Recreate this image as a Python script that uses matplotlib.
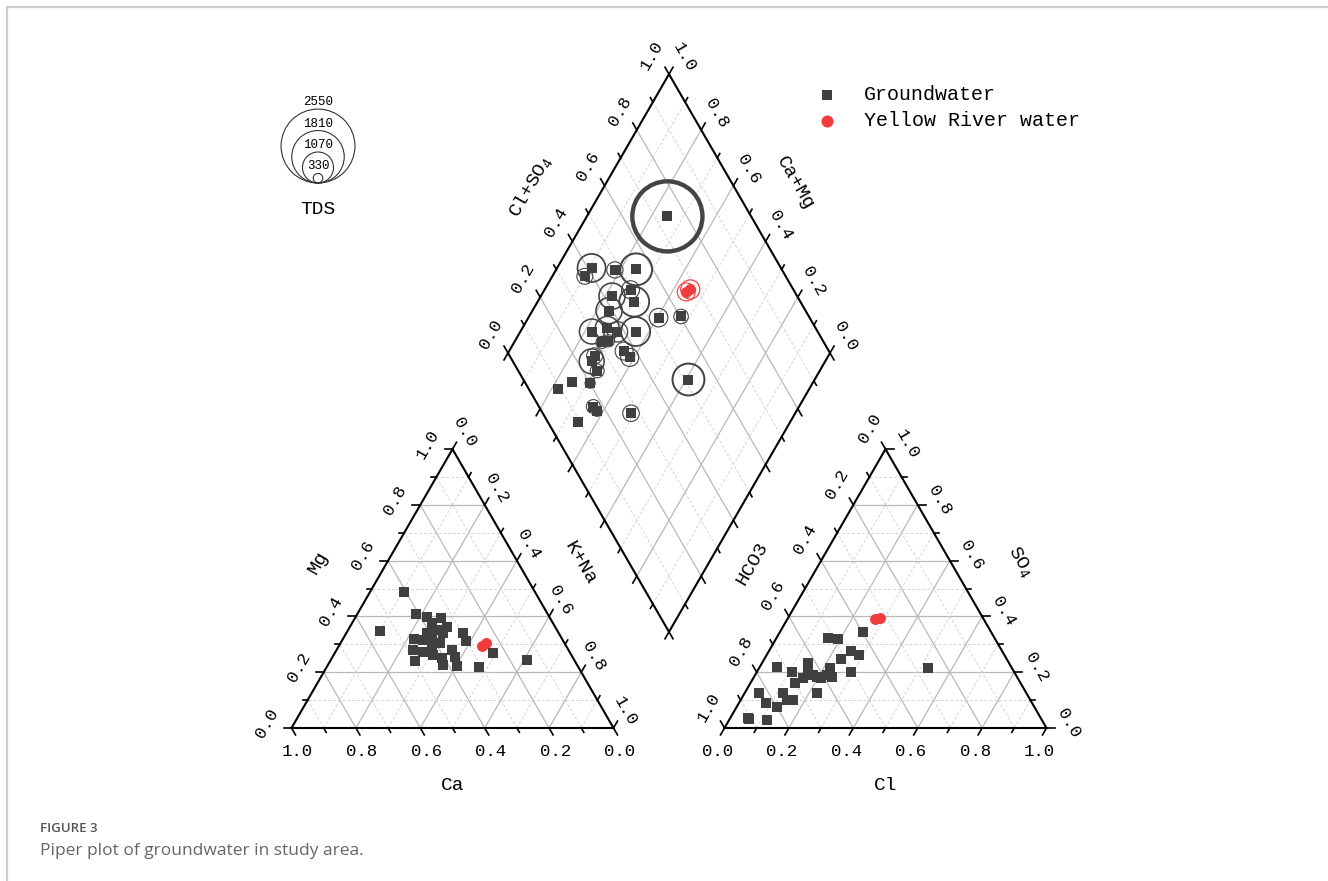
import numpy as np
import matplotlib
matplotlib.use('Agg')
import matplotlib.pyplot as plt
from matplotlib.patches import Circle

plt.rcParams['mathtext.fontset'] = 'custom'
plt.rcParams['mathtext.rm'] = 'Liberation Mono'
plt.rcParams['mathtext.it'] = 'Liberation Mono'
MONO = 'Liberation Mono'

# groundwater samples: cation / anion fractions (meq) and TDS (mg/L)
gw_ca = [0.411, 0.407, 0.551, 0.409, 0.377, 0.339, 0.380, 0.337, 0.374, 0.308,
         0.482, 0.460, 0.496, 0.359, 0.416, 0.454, 0.419, 0.363, 0.302, 0.374,
         0.400, 0.387, 0.433, 0.429, 0.460, 0.297, 0.366, 0.240, 0.409, 0.148]
gw_mg = [0.339, 0.486, 0.348, 0.408, 0.375, 0.394, 0.399, 0.363, 0.222, 0.220,
         0.280, 0.318, 0.240, 0.339, 0.226, 0.273, 0.291, 0.280, 0.312, 0.351,
         0.326, 0.304, 0.315, 0.262, 0.319, 0.342, 0.253, 0.270, 0.250, 0.244]
gw_cl = [0.526, 0.222, 0.144, 0.159, 0.287, 0.292, 0.241, 0.238, 0.254, 0.260,
         0.210, 0.139, 0.225, 0.194, 0.221, 0.111, 0.156, 0.156, 0.180, 0.121,
         0.164, 0.145, 0.118, 0.127, 0.056, 0.045, 0.083, 0.054, 0.060, 0.194]
gw_so4 = [0.214, 0.190, 0.232, 0.322, 0.261, 0.202, 0.184, 0.246, 0.277, 0.343,
          0.180, 0.160, 0.127, 0.184, 0.214, 0.200, 0.178, 0.208, 0.190, 0.124,
          0.100, 0.100, 0.029, 0.074, 0.035, 0.124, 0.089, 0.220, 0.034, 0.319]
gw_tds = [2420, 970, 550, 560, 1100, 620, 900, 1030, 640, 500,
          900, 860, 830, 700, 1000, 420, 420, 620, 620, 860,
          550, 480, 250, 350, 250, 480, 350, 570, 250, 1100]

# Yellow River water samples
yr_ca = [0.262, 0.244]
yr_mg = [0.294, 0.304]
yr_cl = [0.272, 0.285]
yr_so4 = [0.391, 0.395]
yr_tds = [620, 660]

tds_legend = [2550, 1810, 1070, 330]
tick_vals = np.round(np.arange(0, 1.01, 0.1), 1)

# layout (pixels, y pointing down)
S = 322.0
H = S * np.sqrt(3) / 2
GAP = 111.0
X0, Y0 = 291.5, 728.0
XA = X0 + S + GAP
BOT = np.array([X0 + S + GAP / 2, Y0 - GAP * np.sqrt(3) / 2])
U = np.array([S / 2, -H])
V = np.array([S / 2, H])
L = BOT - V
UP_L = np.array([-0.5, -0.866])
UP_R = np.array([0.5, -0.866])
DN_L = np.array([-0.5, 0.866])
DN_R = np.array([0.5, 0.866])

GRID_C, MINOR_C = '#b8b8b8', '#d4d4d4'
SQ_C, RED_C, RING_C = '#404040', '#f03c3c', '#444444'


def tri_xy(ox, right, top):
    right, top = np.asarray(right, float), np.asarray(top, float)
    return ox + S * (right + top / 2), Y0 - H * top


def cation_xy(ca, mg):
    return tri_xy(X0, 1 - np.asarray(ca) - np.asarray(mg), mg)


def anion_xy(cl, so4):
    return tri_xy(XA, cl, so4)


def diamond_xy(na, clso4):
    na, clso4 = np.asarray(na, float), np.asarray(clso4, float)
    return L[0] + clso4 * U[0] + na * V[0], L[1] + clso4 * U[1] + na * V[1]


def tds_radius(tds):
    return np.asarray(tds, float) / 69.0


def grid_line(ax, p, q, k):
    if k % 2 == 0:
        ax.plot([p[0], q[0]], [p[1], q[1]], color=GRID_C, lw=0.9, zorder=1)
    else:
        ax.plot([p[0], q[0]], [p[1], q[1]], color=MINOR_C, lw=0.7,
                ls=(0, (3, 2)), zorder=1)


def tri_grid(ax, ox):
    for k in range(1, 10):
        t = k / 10
        grid_line(ax, tri_xy(ox, 0, t), tri_xy(ox, 1 - t, t), k)
        grid_line(ax, tri_xy(ox, t, 0), tri_xy(ox, t, 1 - t), k)
        grid_line(ax, tri_xy(ox, 1 - t, 0), tri_xy(ox, 0, 1 - t), k)
    a, b, c = tri_xy(ox, 0, 0), tri_xy(ox, 1, 0), tri_xy(ox, 0, 1)
    ax.plot([a[0], b[0], c[0], a[0]], [a[1], b[1], c[1], a[1]],
            color='black', lw=1.5, zorder=3, solid_joinstyle='miter')


def edge_ticks(ax, p0, p1, direction, labels=None, offset=(0, 0), rot=0):
    p0, p1 = np.asarray(p0, float), np.asarray(p1, float)
    for i, v in enumerate(tick_vals):
        p = p0 + v * (p1 - p0)
        ln = 8 if i % 2 == 0 else 5
        q = p + ln * direction
        ax.plot([p[0], q[0]], [p[1], q[1]], color='black', lw=1.2, zorder=3)
        # only every other tick carries a label
        if labels is not None and i % 2 == 0:
            ax.text(p[0] + offset[0], p[1] + offset[1], '%.1f' % labels[i],
                    family=MONO, fontsize=12.5, rotation=rot,
                    rotation_mode='anchor', ha='center', va='center')


fig = plt.figure(figsize=(13.28, 8.81), dpi=100)
ax = fig.add_axes([0, 0, 1, 1])
ax.set_xlim(0, 1328)
ax.set_ylim(881, 0)
ax.set_axis_off()

# page frame
ax.plot([7, 7, 1328], [881, 7, 7], color='#cfcfcf', lw=1.6, zorder=0)

# cation triangle
tri_grid(ax, X0)
edge_ticks(ax, tri_xy(X0, 0, 0), tri_xy(X0, 1, 0), DN_R, 1 - tick_vals, (6, 24))
edge_ticks(ax, tri_xy(X0, 0, 0), tri_xy(X0, 0, 1), np.array([-1, 0]),
           tick_vals, (-25, -5), 60)
edge_ticks(ax, tri_xy(X0, 0, 1), tri_xy(X0, 1, 0), UP_R, tick_vals,
           (12, -16.5), -60)
ax.text(X0 + S / 2, 785, 'Ca', family=MONO, fontsize=14, ha='center', va='center')
ax.text(318, 563, 'Mg', family=MONO, fontsize=14, rotation=60,
        rotation_mode='anchor', ha='center', va='center')
ax.text(580, 563, 'K+Na', family=MONO, fontsize=14, rotation=-60,
        rotation_mode='anchor', ha='center', va='center')

# anion triangle
tri_grid(ax, XA)
edge_ticks(ax, tri_xy(XA, 0, 0), tri_xy(XA, 1, 0), DN_L, tick_vals, (-7, 24))
edge_ticks(ax, tri_xy(XA, 0, 0), tri_xy(XA, 0, 1), UP_L, 1 - tick_vals,
           (-16, -21), 60)
edge_ticks(ax, tri_xy(XA, 1, 0), tri_xy(XA, 0, 1), np.array([1, 0]),
           tick_vals, (22, -5), -60)
ax.text(XA + S / 2, 785, 'Cl', family=MONO, fontsize=14, ha='center', va='center')
ax.text(752, 563, 'HCO3', family=MONO, fontsize=14, rotation=60,
        rotation_mode='anchor', ha='center', va='center')
ax.text(1020, 562, 'SO$_4$', family=MONO, fontsize=14, rotation=-60,
        rotation_mode='anchor', ha='center', va='center')

# diamond
for k in range(1, 10):
    t = k / 10
    grid_line(ax, L + t * U, L + t * U + V, k)
    grid_line(ax, L + t * V, L + t * V + U, k)
corners = np.array([L, L + U, L + U + V, L + V, L])
ax.plot(corners[:, 0], corners[:, 1], color='black', lw=1.5, zorder=3,
        solid_joinstyle='miter')
edge_ticks(ax, L, L + U, UP_L, tick_vals, (-17, -19), 60)
edge_ticks(ax, L + U, L + U + V, UP_R, 1 - tick_vals, (15.5, -16.5), -60)
edge_ticks(ax, L, L + V, DN_L)
edge_ticks(ax, L + V, L + V + U, DN_R)
ax.text(530, 187, 'Cl+SO$_4$', family=MONO, fontsize=14, rotation=60,
        rotation_mode='anchor', ha='center', va='center')
ax.text(795, 183, 'Ca+Mg', family=MONO, fontsize=14, rotation=-60,
        rotation_mode='anchor', ha='center', va='center')

# samples
gw_na = 1 - np.array(gw_ca) - np.array(gw_mg)
gw_a = np.array(gw_cl) + np.array(gw_so4)
yr_na = 1 - np.array(yr_ca) - np.array(yr_mg)
yr_a = np.array(yr_cl) + np.array(yr_so4)

for xy in (cation_xy(gw_ca, gw_mg), anion_xy(gw_cl, gw_so4), diamond_xy(gw_na, gw_a)):
    ax.scatter(*xy, marker='s', s=46, color=SQ_C, linewidths=0, zorder=5)
for xy in (cation_xy(yr_ca, yr_mg), anion_xy(yr_cl, yr_so4), diamond_xy(yr_na, yr_a)):
    ax.scatter(*xy, marker='o', s=62, color=RED_C, linewidths=0, zorder=6)

# TDS rings in the diamond
dx, dy = diamond_xy(gw_na, gw_a)
for x, y, r in zip(dx, dy, tds_radius(gw_tds)):
    ax.add_patch(Circle((x, y), r, fill=False, ec=RING_C,
                        lw=max(0.8, r / 8 * 0.72), zorder=4))
dx, dy = diamond_xy(yr_na, yr_a)
for x, y, r in zip(dx, dy, tds_radius(yr_tds)):
    ax.add_patch(Circle((x, y), r, fill=False, ec=RED_C,
                        lw=max(0.8, r / 8 * 0.72), zorder=7))

# TDS size legend
lx, lbase = 318.0, 183.0
for v, r in zip(tds_legend, tds_radius(tds_legend)):
    ax.add_patch(Circle((lx, lbase - r), r, fill=False, ec='#333333', lw=0.8))
    ax.text(lx, lbase - 2 * r - 1, str(v), family=MONO, fontsize=9,
            ha='center', va='bottom')
ax.text(lx, 209, 'TDS', family=MONO, fontsize=14, ha='center', va='center')

# series legend
ax.scatter([827], [95], marker='s', s=55, color=SQ_C, linewidths=0)
ax.scatter([827], [121], marker='o', s=75, color=RED_C, linewidths=0)
ax.text(864, 95, 'Groundwater', family=MONO, fontsize=14.4, va='center')
ax.text(864, 121, 'Yellow River water', family=MONO, fontsize=14.4, va='center')

# caption
ax.text(40, 829, 'FIGURE 3', family='Open Sans', fontweight='semibold',
        fontsize=9.5, color='#555555', va='center')
ax.text(40, 851, 'Piper plot of groundwater in study area.', family='Open Sans',
        fontsize=12.5, color='#666666', va='center')

fig.savefig('out.png', dpi=100)
